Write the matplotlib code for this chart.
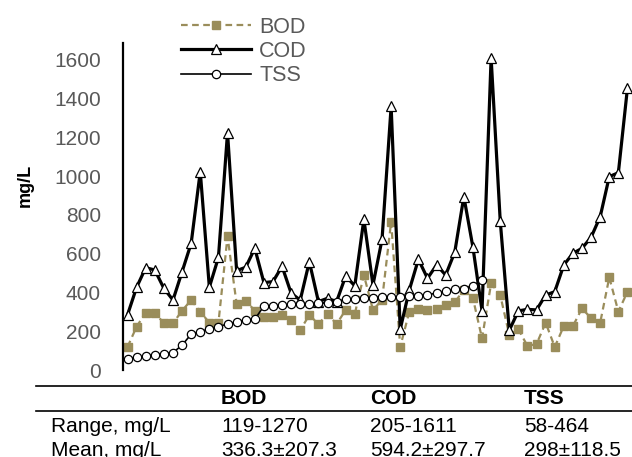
import numpy as np
import matplotlib
matplotlib.use('Agg')
import matplotlib.pyplot as plt
from matplotlib.lines import Line2D

plt.rcParams['font.family'] = ['Liberation Sans', 'DejaVu Sans']

# --- values (mg/L), one per sample -----------------------------------------
bod = [119, 224, 296, 296, 241, 241, 306, 361, 301, 244,
       244, 690, 341, 358, 306, 275, 275, 282, 257, 206,
       284, 237, 289, 237, 310, 289, 490, 310, 361, 765,
       119, 301, 313, 310, 313, 335, 350, 413, 370, 163,
       447, 387, 181, 210, 124, 134, 244, 119, 227, 227,
       318, 267, 244, 478, 301, 404]
cod = [285, 427, 528, 516, 421, 361, 507, 654, 1024, 427,
       581, 1225, 513, 530, 628, 451, 456, 535, 396, 361,
       559, 353, 370, 353, 485, 434, 778, 439, 674, 1360,
       210, 413, 571, 473, 542, 490, 608, 895, 633, 306,
       1611, 771, 205, 305, 313, 310, 387, 404, 542, 602,
       628, 685, 791, 998, 1018, 1455]
tss = [58, 65, 72, 79, 85, 90, 128, 185, 198, 212,
       224, 237, 248, 258, 262, 330, 330, 334, 339, 341,
       341, 344, 348, 353, 365, 368, 370, 373, 378, 378,
       378, 380, 384, 389, 396, 406, 416, 420, 434, 464]

table_cols = ['BOD', 'COD', 'TSS']
table_rows = ['Range, mg/L', 'Mean, mg/L']
table_vals = [['119-1270', '205-1611', '58-464'],
              ['336.3\u00b1207.3', '594.2\u00b1297.7', '298\u00b1118.5']]

W, H = 632, 457
fig = plt.figure(figsize=(W / 100, H / 100), dpi=100)
ax = fig.add_axes([123 / W, 87 / H, 509 / W, 327.5 / H])

olive = '#9a8d5b'
x_all = np.arange(len(cod))
ax.plot(np.arange(len(bod)), bod, ls=(0, (3, 2)), lw=1.6, c=olive,
        marker='s', ms=5.5, mfc=olive, mec=olive, label='BOD', zorder=2)
ax.plot(x_all, cod, ls='-', lw=2.3, c='black',
        marker='^', ms=7.5, mfc='white', mec='black', mew=0.9,
        label='COD', zorder=3)
ax.plot(np.arange(len(tss)), tss, ls='-', lw=1.2, c='black',
        marker='o', ms=6, mfc='white', mec='black', mew=0.9,
        label='TSS', zorder=4)

ax.set_xlim(-0.5, len(cod) - 0.5)
ax.set_ylim(0, 1690)
ax.set_yticks(range(0, 1601, 200))
ax.tick_params(axis='y', length=0, pad=16, labelsize=15, labelcolor='#595959')
ax.set_xticks([])
for s in ('top', 'right', 'bottom'):
    ax.spines[s].set_visible(False)
ax.spines['left'].set_linewidth(1.6)
ax.set_ylabel('mg/L', fontsize=13, fontweight='bold')
ax.yaxis.set_label_coords(-0.175, 0.565)

leg = ax.legend(loc='upper left', bbox_to_anchor=(170 / W, 1 - 6 / H),
                bbox_transform=fig.transFigure, frameon=False,
                fontsize=15.5, handlelength=3.25, handletextpad=0.4,
                labelspacing=0.15, borderpad=0)
for t in leg.get_texts():
    t.set_color('#595959')

# --- summary table under the plot ------------------------------------------
def fy(py):
    return 1 - py / H

for py in (386, 411):
    fig.add_artist(Line2D([36 / W, 1.0], [fy(py), fy(py)], lw=1.2, c='black'))

col_x = [221, 370, 524]
for cx, name in zip(col_x, table_cols):
    fig.text(cx / W, fy(399), name, fontsize=15, fontweight='bold',
             va='center', ha='left')
for ry, rname, vals in zip((427, 450), table_rows, table_vals):
    fig.text(51 / W, fy(ry), rname, fontsize=15, va='center', ha='left')
    for cx, v in zip(col_x, vals):
        fig.text(cx / W, fy(ry), v, fontsize=15, va='center', ha='left')

fig.savefig('out.png', dpi=100)
